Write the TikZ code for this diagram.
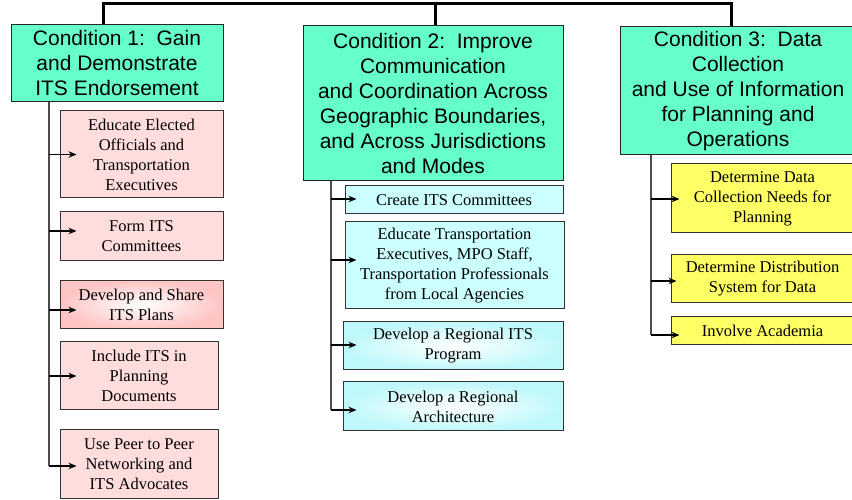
\documentclass[tikz,border=0pt]{standalone}
\usepackage{fontspec}
\setmainfont{Liberation Serif}
\newfontfamily\arialf{Liberation Sans}
\usetikzlibrary{arrows.meta}
\definecolor{condc}{RGB}{102,255,204}
\definecolor{pinkc}{RGB}{255,221,221}
\definecolor{pinkd}{RGB}{255,196,196}
\definecolor{cyanc}{RGB}{204,255,255}
\definecolor{cyand}{RGB}{190,248,250}
\definecolor{yellc}{RGB}{255,255,102}
\tikzset{
  cond/.style={draw=black!85, line width=1pt, fill=condc, align=center, inner sep=0pt,
    font=\arialf\fontsize{21}{25}\selectfont},
  sub/.style={draw=black!80, line width=1pt, align=center, inner sep=0pt,
    font=\fontsize{16.5}{20}\selectfont},
  pinkbox/.style={sub, fill=pinkc},
  cyanbox/.style={sub, fill=cyanc},
  yellbox/.style={sub, fill=yellc},
  topline/.style={line width=3pt, black},
  branch/.style={line width=1.2pt, black!70},
  arr/.style={line width=1.2pt, black, -{Stealth[length=8pt,width=6.5pt]}}
}
\begin{document}
\begin{tikzpicture}[x=1pt,y=1pt]
\clip (0,0) rectangle (852,500);
\fill[white] (0,0) rectangle (852,500);

% condition boxes
\node[cond, minimum width=212pt, minimum height=77pt] (c1) at (117,436.5)
  {Condition 1:\ \ Gain\\and Demonstrate\\ITS Endorsement};
\node[cond, minimum width=260pt, minimum height=155pt] (c2) at (433,396.5)
  {Condition 2:\ \ Improve\\Communication\\and Coordination Across\\Geographic Boundaries,\\and Across Jurisdictions\\and Modes};
\node[cond, minimum width=236pt, minimum height=128pt] (c3) at (738,409)
  {Condition 3:\ \ Data\\Collection\\and Use of Information\\for Planning and\\Operations};

% top bar
\coordinate (t1) at (103,496);
\coordinate (t2) at (435,496);
\coordinate (t3) at (731,496);
\draw[topline] ([xshift=-1.5pt]t1) -- ([xshift=1.5pt]t3);
\draw[topline] (t1) -- (t1 |- c1.north);
\draw[topline] (t2) -- (t2 |- c2.north);
\draw[topline] (t3) -- (t3 |- c3.north);

% pink boxes
\node[pinkbox, minimum width=163pt, minimum height=87pt] (p1) at (141.5,345.5)
  {Educate Elected\\Officials and\\Transportation\\Executives};
\node[pinkbox, minimum width=163pt, minimum height=49pt] (p2) at (141.5,263.5)
  {Form ITS\\Committees};
\node[sub, minimum width=163pt, minimum height=48pt, shading=radial,
  inner color=white, outer color=pinkd] (p3) at (141.5,195)
  {Develop and Share\\ITS Plans};
\node[pinkbox, minimum width=158pt, minimum height=68pt] (p4) at (139,124)
  {Include ITS in\\Planning\\Documents};
\node[pinkbox, minimum width=158pt, minimum height=69pt] (p5) at (139,35.5)
  {Use Peer to Peer\\Networking and\\ITS Advocates};

% cyan boxes
\node[cyanbox, minimum width=218pt, minimum height=28pt] (b1) at (454,300)
  {Create ITS Committees};
\node[cyanbox, minimum width=219pt, minimum height=87pt] (b2) at (454.5,234.5)
  {Educate Transportation\\Executives, MPO Staff,\\Transportation Professionals\\from Local Agencies};
\node[sub, minimum width=220pt, minimum height=48pt, shading=radial,
  inner color=white, outer color=cyand] (b3) at (453,154)
  {Develop a Regional ITS\\Program};
\node[sub, minimum width=220pt, minimum height=49pt, shading=radial,
  inner color=white, outer color=cyand] (b4) at (453,93.5)
  {Develop a Regional\\Architecture};

% yellow boxes
\node[yellbox, minimum width=183pt, minimum height=69pt] (y1) at (762.5,301.5)
  {Determine Data\\Collection Needs for\\Planning};
\node[yellbox, minimum width=183pt, minimum height=48pt] (y2) at (762.5,221)
  {Determine Distribution\\System for Data};
\node[yellbox, minimum width=183pt, minimum height=28pt] (y3) at (762.5,169)
  {Involve Academia};

% branch 1
\coordinate (v1) at (49,0);
\coordinate (a1) at ([xshift=17pt]p1.west);
\coordinate (a2) at ([xshift=17pt,yshift=5.5pt]p2.west);
\coordinate (a3) at ([xshift=17pt,yshift=-5pt]p3.west);
\coordinate (a4) at ([xshift=17pt]p4.west);
\coordinate (a5) at ([xshift=17pt,yshift=-1.5pt]p5.west);
\draw[branch] (v1 |- c1.south) -- (a5 -| v1);
\foreach \a in {a1,a2,a3,a4,a5} \draw[arr] (\a -| v1) -- (\a);

% branch 2
\coordinate (v2) at (331,0);
\coordinate (d1) at ([xshift=12pt,yshift=1pt]b1.west);
\coordinate (d2) at ([xshift=12pt,yshift=5.5pt]b2.west);
\coordinate (d3) at ([xshift=14pt,yshift=1pt]b3.west);
\coordinate (d4) at ([xshift=14pt,yshift=-3.5pt]b4.west);
\draw[branch] (v2 |- c2.south) -- (d4 -| v2);
\foreach \a in {d1,d2,d3,d4} \draw[arr] (\a -| v2) -- (\a);

% branch 3
\coordinate (v3) at (651,0);
\coordinate (e1) at ([xshift=9pt,yshift=-0.5pt]y1.west);
\coordinate (e2) at ([xshift=6pt,yshift=-2pt]y2.west);
\coordinate (e3) at ([xshift=9pt,yshift=-4pt]y3.west);
\draw[branch] (v3 |- c3.south) -- (e3 -| v3);
\foreach \a in {e1,e2,e3} \draw[arr] (\a -| v3) -- (\a);
\end{tikzpicture}
\end{document}
